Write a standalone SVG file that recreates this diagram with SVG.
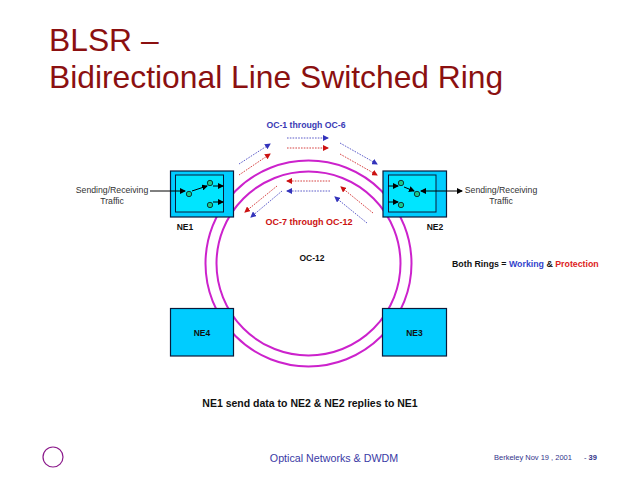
<svg xmlns="http://www.w3.org/2000/svg" width="638" height="479" viewBox="0 0 638 479">
<defs>
<marker id="k" markerWidth="6" markerHeight="6" refX="5" refY="3" orient="auto-start-reverse" markerUnits="userSpaceOnUse"><path d="M0,0L6,3L0,6z" fill="#000"/></marker>
<marker id="b" markerWidth="6" markerHeight="6" refX="5" refY="3" orient="auto" markerUnits="userSpaceOnUse"><path d="M0,0L6,3L0,6z" fill="#3333bb"/></marker>
<marker id="r" markerWidth="6" markerHeight="6" refX="5" refY="3" orient="auto" markerUnits="userSpaceOnUse"><path d="M0,0L6,3L0,6z" fill="#cc1111"/></marker>
</defs>
<style>
text{font-family:"Liberation Sans",Arial,sans-serif}
.t{font-size:8.5px;font-weight:bold;fill:#111}
.g{font-size:8.7px;fill:#333}
.ne{fill:#00ccff;stroke:#0a1a3a;stroke-width:1.2}
.in{fill:#00e5ff;stroke:#0a1a3a;stroke-width:1}
.ring{fill:none;stroke:#cc22cc;stroke-width:2}
.sw{fill:#19c78a;stroke:#0a3a3a;stroke-width:1}
.w{stroke:#000;stroke-width:1;fill:none;marker-end:url(#k)}
.db{stroke:#3333bb;stroke-width:.8;stroke-dasharray:1.6 1.2;fill:none;marker-end:url(#b)}
.dr{stroke:#cc1111;stroke-width:.8;stroke-dasharray:1.6 1.2;fill:none;marker-end:url(#r)}
</style>
<rect width="638" height="479" fill="#fff"/>
<text x="49" y="51" font-size="31.800" fill="#8b1010">BLSR –</text>
<text x="49" y="88" font-size="31.800" fill="#8b1010">Bidirectional Line Switched Ring</text>
<g id="rings">
<circle class="ring" cx="308.500" cy="263.500" r="103"/>
<circle class="ring" cx="308.500" cy="263.500" r="92"/>
</g>
<g id="NE1">
<rect class="ne" x="170.500" y="171" width="63" height="46"/>
<rect class="in" x="175.500" y="175" width="48" height="37"/>
<circle class="sw" cx="189" cy="194" r="2.700"/>
<circle class="sw" cx="210" cy="183" r="2.700"/>
<circle class="sw" cx="210" cy="205" r="2.700"/>
<path class="w" d="M192,191L207,186"/>
<path class="w" d="M213,186H223"/>
<path class="w" d="M213,202H223"/>
<text class="t" x="185" y="230" text-anchor="middle">NE1</text>
</g>
<g id="NE2">
<rect class="ne" x="383" y="171" width="63.500" height="46"/>
<rect class="in" x="388.500" y="175" width="47.500" height="37"/>
<circle class="sw" cx="401" cy="183" r="2.700"/>
<circle class="sw" cx="417" cy="194" r="2.700"/>
<circle class="sw" cx="401" cy="205" r="2.700"/>
<path class="w" d="M404,187L414,191"/>
<path class="w" d="M388.500,186H398"/>
<path class="w" d="M388.500,202H398"/>
<text class="t" x="435" y="230" text-anchor="middle">NE2</text>
</g>
<g id="NE3">
<rect class="ne" x="382.500" y="308.500" width="64" height="47.500"/>
<text class="t" x="414.500" y="336" text-anchor="middle">NE3</text>
</g>
<g id="NE4">
<rect class="ne" x="170.500" y="308.500" width="63" height="47.500"/>
<text class="t" x="202" y="336" text-anchor="middle">NE4</text>
</g>
<g id="connectors">
<path class="w" d="M150,191H185"/>
<path d="M421,191H462" stroke="#000" stroke-width="1" fill="none" marker-start="url(#k)" marker-end="url(#k)"/>
<path class="db" d="M239,164L270,144"/>
<path class="dr" d="M239,175L270,154"/>
<path class="db" d="M287,138H328"/>
<path class="dr" d="M287,148H328"/>
<path class="db" d="M340,143L377,164"/>
<path class="dr" d="M340,154L377,175"/>
<path class="dr" d="M330,181H287"/>
<path class="db" d="M330,191H287"/>
<path class="dr" d="M277,186L245,212"/>
<path class="db" d="M282,191L251,217"/>
<path class="dr" d="M373,213L341,187"/>
<path class="db" d="M367,223L335,197"/>
</g>
<text x="306" y="128" font-size="8.700" font-weight="bold" fill="#3a3ab5" text-anchor="middle">OC-1 through OC-6</text>
<text x="309" y="225" font-size="9" font-weight="bold" fill="#cc1111" text-anchor="middle">OC-7 through OC-12</text>
<text class="t" x="312" y="261" text-anchor="middle">OC-12</text>
<text class="g" x="112" y="193" text-anchor="middle">Sending/Receiving</text>
<text class="g" x="112" y="204" text-anchor="middle">Traffic</text>
<text class="g" x="501" y="193" text-anchor="middle">Sending/Receiving</text>
<text class="g" x="501" y="204" text-anchor="middle">Traffic</text>
<text x="452" y="267" font-size="8.800" font-weight="bold" fill="#111">Both Rings = <tspan fill="#3344cc">Working</tspan> &amp; <tspan fill="#dd2222">Protection</tspan></text>
<text x="310" y="407" font-size="10.500" font-weight="bold" fill="#111" text-anchor="middle">NE1 send data to NE2 &amp; NE2 replies to NE1</text>
<circle cx="53" cy="457" r="10" fill="none" stroke="#8b1a8b" stroke-width="1.200"/>
<text x="334" y="462" font-size="10.700" fill="#3a3aa5" text-anchor="middle">Optical Networks &amp; DWDM</text>
<text x="494" y="460" font-size="7.500" fill="#33338a">Berkeley Nov 19 , 2001</text>
<text x="584" y="460" font-size="7.500" fill="#33338a">- <tspan font-weight="bold">39</tspan></text>
</svg>
